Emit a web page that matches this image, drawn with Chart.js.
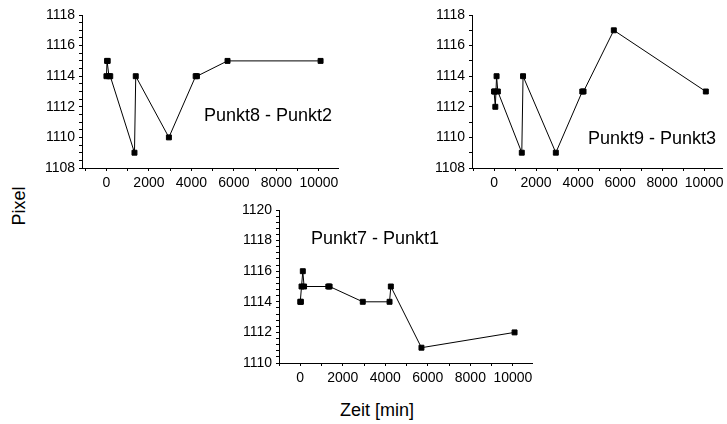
<!DOCTYPE html>
<html>
<head>
<meta charset="utf-8">
<script src="https://cdn.jsdelivr.net/npm/chart.js@4/dist/chart.umd.min.js"></script>
<style>
  body { margin: 0; background: #fff; width: 727px; height: 424px; position: relative; overflow: hidden; font-family: "Liberation Sans", Arial, sans-serif; }
  canvas { position: absolute; }
  .label { position: absolute; font-size: 18px; color: #000; white-space: nowrap; line-height: 1; }
  #pixel { left: 19px; top: 206px; transform: translate(-50%, -50%) rotate(-90deg); }
  #zeit { left: 377px; top: 410px; transform: translate(-50%, -50%); }
</style>
</head>
<body>
<canvas id="chart-82" width="305" height="195" style="left:40px;top:0px"></canvas>
<canvas id="chart-93" width="297" height="195" style="left:430px;top:0px"></canvas>
<canvas id="chart-71" width="302" height="195" style="left:237px;top:195px"></canvas>
<div class="label" style="left:204px;top:106px">Punkt8 - Punkt2</div>
<div class="label" style="left:588px;top:129px">Punkt9 - Punkt3</div>
<div class="label" style="left:311px;top:229px">Punkt7 - Punkt1</div>
<div class="label" id="pixel">Pixel</div>
<div class="label" id="zeit">Zeit [min]</div>
<script>
const times = [0, 30, 60, 120, 180, 1320, 1380, 2940, 4200, 4260, 5700, 10080];
const punkt8Punkt2 = [1114, 1115, 1115, 1114, 1114, 1109, 1114, 1110, 1114, 1114, 1115, 1115];
const punkt9Punkt3 = [1113, 1113, 1112, 1114, 1113, 1109, 1114, 1109, 1113, 1113, 1117, 1113];
const punkt7Punkt1 = [1114, 1114, 1115, 1116, 1115, 1115, 1115, 1114, 1114, 1115, 1111, 1112];

const xTickLabels = [0, 2000, 4000, 6000, 8000, 10000];
const yTickLabelsTop = [1108, 1110, 1112, 1114, 1116, 1118];
const yTickLabelsBottom = [1110, 1112, 1114, 1116, 1118, 1120];

const axisFont = { family: "'Liberation Sans', Arial, sans-serif", size: 14 };

function tickList(min, max, step) {
  const out = [];
  for (let v = min; v <= max + 1e-9; v += step) {
    out.push({ value: Math.round(v * 100) / 100 });
  }
  return out;
}

function axis(majors, minorStep, min, max, fixedSize, isX) {
  return {
    type: "linear",
    min,
    max,
    border: { display: true, color: "#000", width: 1 },
    grid: {
      drawOnChartArea: false,
      drawTicks: true,
      tickLength: 3,
      tickColor: "#000",
      tickWidth: 1,
    },
    ticks: {
      color: "#000",
      font: axisFont,
      padding: 4,
      autoSkip: false,
      maxRotation: 0,
      callback: (v) => (majors.includes(v) ? String(v) : ""),
    },
    afterBuildTicks: (scale) => {
      scale.ticks = tickList(majors[0] - (isX ? 1000 : 0), max, minorStep).filter((t) => t.value >= min);
    },
    afterFit: (scale) => {
      // keep the plot box where the reference has it
      if (isX) {
        scale.height = fixedSize;
        scale.paddingLeft = 0;
        scale.paddingRight = 0;
      } else {
        scale.width = fixedSize;
        scale.paddingTop = 0;
        scale.paddingBottom = 0;
      }
    },
  };
}

function createPanel(canvasId, values, yMajors, yMinorStep, xMin, xMax, rightPad) {
  const ctx = document.getElementById(canvasId).getContext("2d");
  return new Chart(ctx, {
    type: "scatter",
    data: {
      datasets: [
        {
          data: times.map((t, i) => ({ x: t, y: values[i] })),
          showLine: true,
          borderColor: "#000",
          borderWidth: 1,
          backgroundColor: "#000",
          pointStyle: "rect",
          pointRadius: 3.5,
          pointBorderWidth: 1,
          pointBorderColor: "#000",
        },
      ],
    },
    options: {
      responsive: false,
      animation: false,
      devicePixelRatio: 1,
      layout: { padding: { top: 15, right: rightPad, left: 0, bottom: 0 } },
      scales: {
        x: axis(xTickLabels, 1000, xMin, xMax, 27, true),
        y: axis(yMajors, yMinorStep, yMajors[0], yMajors[yMajors.length - 1], 42, false),
      },
      plugins: {
        legend: { display: false },
        tooltip: { enabled: false },
      },
    },
  });
}

createPanel("chart-82", punkt8Punkt2, yTickLabelsTop, 0.5, -1150, 10900, 7);
createPanel("chart-93", punkt9Punkt3, yTickLabelsTop, 1, -1050, 10850, 0);
createPanel("chart-71", punkt7Punkt1, yTickLabelsBottom, 0.4, -1000, 10900, 7);
</script>
</body>
</html>
